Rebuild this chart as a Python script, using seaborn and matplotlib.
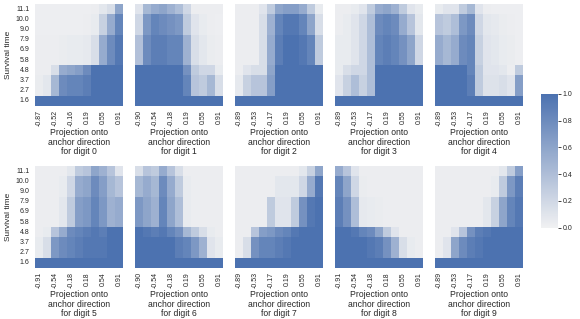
import matplotlib
matplotlib.use("Agg")
import matplotlib.pyplot as plt
import numpy as np
import pandas as pd
import seaborn as sns

# survival time bins, top row of each heatmap first
survival_times = ["11.1", "10.0", "9.0", "7.9", "6.9", "5.8", "4.8", "3.7", "2.7", "1.6"]

# tick labels shown under every other column (11 columns per heatmap)
ticks_0 = ["-0.87", "-0.52", "-0.16", "0.19", "0.55", "0.91"]
ticks_1 = ["-0.90", "-0.54", "-0.18", "0.19", "0.55", "0.91"]
ticks_2 = ["-0.89", "-0.53", "-0.17", "0.19", "0.55", "0.91"]
ticks_3 = ["-0.89", "-0.53", "-0.17", "0.19", "0.55", "0.91"]
ticks_4 = ["-0.89", "-0.53", "-0.17", "0.19", "0.55", "0.91"]
ticks_5 = ["-0.91", "-0.54", "-0.18", "0.18", "0.54", "0.91"]
ticks_6 = ["-0.90", "-0.54", "-0.18", "0.19", "0.55", "0.91"]
ticks_7 = ["-0.89", "-0.53", "-0.17", "0.19", "0.55", "0.91"]
ticks_8 = ["-0.91", "-0.54", "-0.18", "0.18", "0.55", "0.91"]
ticks_9 = ["-0.89", "-0.53", "-0.17", "0.19", "0.55", "0.91"]

# survival probability per (time, projection bin)
surv_0 = [
    [.02, .02, .02, .02, .02, .02, .02, .03, .08, .15, .60],
    [.02, .02, .02, .02, .02, .02, .03, .05, .25, .55, .85],
    [.02, .02, .02, .02, .02, .02, .03, .05, .25, .55, .85],
    [.03, .03, .03, .04, .05, .05, .06, .15, .55, .80, .95],
    [.03, .03, .03, .04, .05, .05, .06, .15, .55, .80, .95],
    [.03, .03, .03, .04, .05, .05, .06, .15, .55, .80, .95],
    [.03, .03, .15, .55, .60, .65, .80, 1.0, 1.0, 1.0, 1.0],
    [.04, .08, .45, .80, .85, .85, .90, 1.0, 1.0, 1.0, 1.0],
    [.04, .08, .45, .80, .85, .85, .90, 1.0, 1.0, 1.0, 1.0],
    [1.0, 1.0, 1.0, 1.0, 1.0, 1.0, 1.0, 1.0, 1.0, 1.0, 1.0],
]
surv_1 = [
    [.10, .45, .55, .60, .50, .40, .20, .03, .03, .03, .03],
    [.20, .70, .85, .80, .75, .70, .30, .10, .05, .03, .02],
    [.20, .70, .85, .80, .75, .70, .30, .10, .05, .03, .02],
    [.38, .80, .90, .90, .85, .85, .50, .15, .08, .04, .03],
    [.38, .80, .90, .90, .85, .85, .50, .15, .08, .04, .03],
    [.38, .80, .90, .90, .85, .85, .50, .15, .08, .04, .03],
    [1.0, 1.0, 1.0, 1.0, 1.0, 1.0, .75, .30, .20, .20, .05],
    [1.0, 1.0, 1.0, 1.0, 1.0, 1.0, .85, .35, .30, .45, .15],
    [1.0, 1.0, 1.0, 1.0, 1.0, 1.0, .85, .35, .30, .45, .15],
    [1.0, 1.0, 1.0, 1.0, 1.0, 1.0, 1.0, 1.0, 1.0, 1.0, 1.0],
]
surv_2 = [
    [.03, .03, .03, .10, .30, .60, .65, .65, .55, .30, .05],
    [.03, .03, .03, .15, .50, .85, .95, .95, .85, .60, .15],
    [.03, .03, .03, .15, .50, .85, .95, .95, .85, .60, .15],
    [.03, .03, .03, .15, .55, .90, 1.0, 1.0, .95, .85, .30],
    [.03, .03, .03, .15, .55, .90, 1.0, 1.0, .95, .85, .30],
    [.03, .03, .03, .15, .55, .90, 1.0, 1.0, .95, .85, .30],
    [.03, .10, .15, .15, .60, 1.0, 1.0, 1.0, 1.0, 1.0, 1.0],
    [.06, .25, .35, .35, .65, 1.0, 1.0, 1.0, 1.0, 1.0, 1.0],
    [.06, .25, .35, .35, .65, 1.0, 1.0, 1.0, 1.0, 1.0, 1.0],
    [1.0, 1.0, 1.0, 1.0, 1.0, 1.0, 1.0, 1.0, 1.0, 1.0, 1.0],
]
surv_3 = [
    [.03, .03, .05, .10, .30, .55, .60, .50, .30, .10, .05],
    [.03, .05, .10, .20, .40, .80, .85, .80, .55, .35, .08],
    [.03, .05, .10, .20, .40, .80, .85, .80, .55, .35, .08],
    [.05, .05, .10, .20, .40, .85, .90, .85, .75, .60, .20],
    [.05, .05, .10, .20, .40, .85, .90, .85, .75, .60, .20],
    [.05, .05, .10, .20, .40, .85, .90, .85, .75, .60, .20],
    [.05, .15, .20, .20, .40, 1.0, 1.0, 1.0, 1.0, 1.0, 1.0],
    [.10, .25, .40, .25, .40, 1.0, 1.0, 1.0, 1.0, 1.0, 1.0],
    [.10, .25, .40, .25, .40, 1.0, 1.0, 1.0, 1.0, 1.0, 1.0],
    [1.0, 1.0, 1.0, 1.0, 1.0, 1.0, 1.0, 1.0, 1.0, 1.0, 1.0],
]
surv_4 = [
    [.05, .10, .10, .30, .45, .10, .03, .02, .02, .02, .02],
    [.35, .30, .40, .70, .80, .20, .08, .06, .04, .03, .02],
    [.35, .30, .40, .70, .80, .20, .08, .06, .04, .03, .02],
    [.55, .45, .55, .80, .85, .25, .10, .08, .05, .04, .02],
    [.55, .45, .55, .80, .85, .25, .10, .08, .05, .04, .02],
    [.55, .45, .55, .80, .85, .25, .10, .08, .05, .04, .02],
    [1.0, 1.0, 1.0, 1.0, .85, .30, .10, .10, .08, .03, .30],
    [1.0, 1.0, 1.0, 1.0, .90, .30, .12, .12, .15, .10, .65],
    [1.0, 1.0, 1.0, 1.0, .90, .30, .12, .12, .15, .10, .65],
    [1.0, 1.0, 1.0, 1.0, 1.0, 1.0, 1.0, 1.0, 1.0, 1.0, 1.0],
]
surv_5 = [
    [.03, .03, .03, .03, .08, .30, .35, .60, .50, .35, .10],
    [.03, .03, .03, .05, .20, .55, .60, .80, .65, .45, .35],
    [.03, .03, .03, .05, .20, .55, .60, .80, .65, .45, .35],
    [.03, .03, .03, .08, .30, .65, .70, .85, .70, .50, .55],
    [.03, .03, .03, .08, .30, .65, .70, .85, .70, .50, .55],
    [.03, .03, .03, .08, .30, .65, .70, .85, .70, .50, .55],
    [.03, .05, .35, .55, .80, .85, .90, .95, .90, 1.0, 1.0],
    [.05, .15, .70, .80, .85, .90, .95, .95, .95, 1.0, 1.0],
    [.05, .15, .70, .80, .85, .90, .95, .95, .95, 1.0, 1.0],
    [1.0, 1.0, 1.0, 1.0, 1.0, 1.0, 1.0, 1.0, 1.0, 1.0, 1.0],
]
surv_6 = [
    [.15, .35, .30, .55, .35, .15, .03, .03, .03, .03, .03],
    [.45, .55, .45, .80, .55, .30, .05, .03, .03, .03, .03],
    [.45, .55, .45, .80, .55, .30, .05, .03, .03, .03, .03],
    [.70, .60, .50, .85, .60, .40, .05, .03, .03, .03, .03],
    [.70, .60, .50, .85, .60, .40, .05, .03, .03, .03, .03],
    [.70, .60, .50, .85, .60, .40, .05, .03, .03, .03, .03],
    [1.0, .95, .90, .95, .85, .75, .45, .30, .15, .05, .03],
    [1.0, 1.0, 1.0, 1.0, 1.0, .90, .85, .70, .50, .10, .05],
    [1.0, 1.0, 1.0, 1.0, 1.0, .90, .85, .70, .50, .10, .05],
    [1.0, 1.0, 1.0, 1.0, 1.0, 1.0, 1.0, 1.0, 1.0, 1.0, 1.0],
]
surv_7 = [
    [.03, .03, .03, .03, .03, .03, .03, .03, .08, .25, .60],
    [.03, .03, .03, .03, .03, .08, .08, .08, .20, .55, .95],
    [.03, .03, .03, .03, .03, .08, .08, .08, .20, .55, .95],
    [.03, .03, .03, .03, .30, .10, .10, .30, .75, .95, 1.0],
    [.03, .03, .03, .03, .30, .10, .10, .30, .75, .95, 1.0],
    [.03, .03, .03, .03, .30, .10, .10, .30, .75, .95, 1.0],
    [.03, .03, .35, .65, .70, .80, .85, .95, 1.0, 1.0, 1.0],
    [.03, .15, .75, .85, .85, .90, .95, 1.0, 1.0, 1.0, 1.0],
    [.03, .15, .75, .85, .85, .90, .95, 1.0, 1.0, 1.0, 1.0],
    [1.0, 1.0, 1.0, 1.0, 1.0, 1.0, 1.0, 1.0, 1.0, 1.0, 1.0],
]
surv_8 = [
    [.55, .35, .10, .03, .03, .03, .03, .03, .03, .03, .03],
    [.85, .60, .20, .04, .03, .03, .03, .03, .03, .03, .03],
    [.85, .60, .20, .04, .03, .03, .03, .03, .03, .03, .03],
    [.90, .75, .40, .06, .05, .04, .03, .03, .03, .03, .03],
    [.90, .75, .40, .06, .05, .04, .03, .03, .03, .03, .03],
    [.90, .75, .40, .06, .05, .04, .03, .03, .03, .03, .03],
    [1.0, 1.0, .95, .85, .80, .60, .30, .10, .03, .03, .03],
    [1.0, 1.0, 1.0, 1.0, .95, .90, .75, .50, .15, .05, .03],
    [1.0, 1.0, 1.0, 1.0, .95, .90, .75, .50, .15, .05, .03],
    [1.0, 1.0, 1.0, 1.0, 1.0, 1.0, 1.0, 1.0, 1.0, 1.0, 1.0],
]
surv_9 = [
    [.03, .03, .03, .03, .03, .03, .03, .03, .08, .30, .65],
    [.03, .03, .03, .03, .03, .03, .03, .05, .30, .70, .90],
    [.03, .03, .03, .03, .03, .03, .03, .05, .30, .70, .90],
    [.03, .03, .03, .03, .03, .03, .08, .25, .60, .85, .95],
    [.03, .03, .03, .03, .03, .03, .08, .25, .60, .85, .95],
    [.03, .03, .03, .03, .03, .03, .08, .25, .60, .85, .95],
    [.03, .03, .10, .35, .75, .90, .95, 1.0, 1.0, 1.0, 1.0],
    [.03, .10, .60, .80, .90, .95, 1.0, 1.0, 1.0, 1.0, 1.0],
    [.03, .10, .60, .80, .90, .95, 1.0, 1.0, 1.0, 1.0, 1.0],
    [1.0, 1.0, 1.0, 1.0, 1.0, 1.0, 1.0, 1.0, 1.0, 1.0, 1.0],
]

surv = [surv_0, surv_1, surv_2, surv_3, surv_4, surv_5, surv_6, surv_7, surv_8, surv_9]
ticks = [ticks_0, ticks_1, ticks_2, ticks_3, ticks_4, ticks_5, ticks_6, ticks_7, ticks_8, ticks_9]

sns.set_theme(style="white")
plt.rcParams["font.family"] = ["Liberation Sans", "DejaVu Sans"]

cmap = sns.light_palette("#4C72B0", as_cmap=True)

W, H = 580, 319
fig = plt.figure(figsize=(W / 100, H / 100), dpi=100)
cax = fig.add_axes([541 / W, 91.5 / H, 17 / W, 133.5 / H])

for k in range(10):
    r, c = divmod(k, 5)
    x0 = 35 + 100 * c
    y0 = 213 if r == 0 else 51
    ax = fig.add_axes([x0 / W, y0 / H, 88 / W, 102 / H])
    df = pd.DataFrame(surv[k], index=survival_times)
    sns.heatmap(df, ax=ax, cmap=cmap, vmin=0, vmax=1,
                cbar=(k == 0), cbar_ax=cax if k == 0 else None,
                xticklabels=False, yticklabels=(c == 0))
    ax.set_xticks(np.arange(0, 11, 2) + 0.5)
    ax.set_xticklabels(ticks[k], rotation=90, fontsize=5)
    ax.tick_params(length=0, pad=3)
    ax.set_xlabel(f"Projection onto\nanchor direction\nfor digit {k}",
                  fontsize=6.2, linespacing=1.05, labelpad=1.5)
    if c == 0:
        ax.tick_params(axis="y", labelsize=5, rotation=0, pad=4)
        ax.set_ylabel("Survival time", fontsize=6, labelpad=3)
    else:
        ax.set_ylabel("")

cax.tick_params(labelsize=5, length=2, width=0.6, pad=1.5)
cax.set_yticks([0, 0.2, 0.4, 0.6, 0.8, 1.0])

fig.savefig("out.png", dpi=100)
